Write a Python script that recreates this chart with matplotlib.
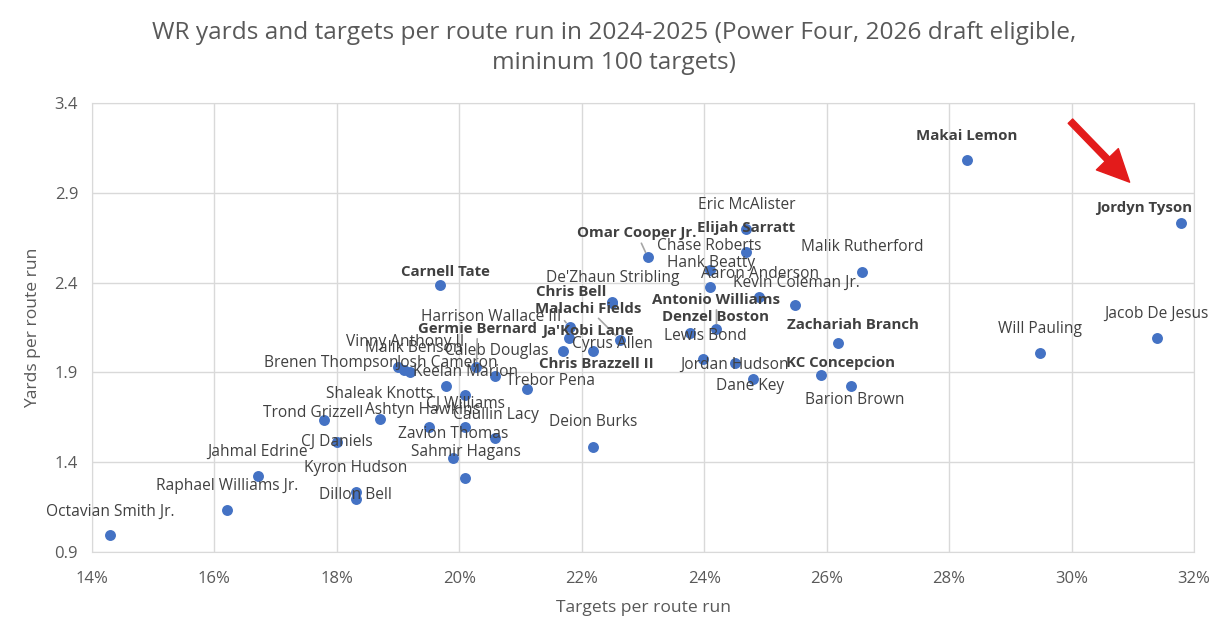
import numpy as np
import matplotlib.pyplot as plt
from matplotlib.ticker import PercentFormatter, MultipleLocator
from matplotlib.patches import FancyArrowPatch

# players, targets per route run, yards per route run
names = ["Octavian Smith Jr.", "Raphael Williams Jr.", "Jahmal Edrine", "Trond Grizzell",
         "CJ Daniels", "Kyron Hudson", "Dillon Bell", "Shaleak Knotts", "Ashtyn Hawkins",
         "Zavion Thomas", "Sahmir Hagans", "CJ Williams", "Caullin Lacy", "Josh Cameron",
         "Keelan Marion", "Caleb Douglas", "Trebor Pena", "Deion Burks", "Brenen Thompson",
         "Malik Benson", "Vinny Anthony II", "Germie Bernard", "Carnell Tate",
         "De'Zhaun Stribling", "Harrison Wallace III", "Chris Bell", "Malachi Fields",
         "Ja'Kobi Lane", "Cyrus Allen", "Chris Brazzell II", "Omar Cooper Jr.",
         "Eric McAlister", "Elijah Sarratt", "Chase Roberts", "Hank Beatty", "Aaron Anderson",
         "Kevin Coleman Jr.", "Malik Rutherford", "Antonio Williams", "Denzel Boston",
         "Lewis Bond", "Jordan Hudson", "Dane Key", "Zachariah Branch", "KC Concepcion",
         "Barion Brown", "Makai Lemon", "Jordyn Tyson", "Will Pauling", "Jacob De Jesus"]

tprr = [0.1430, 0.1620, 0.1671, 0.1779, 0.1800, 0.1831, 0.1831, 0.1870, 0.1950,
        0.1990, 0.2010, 0.2010, 0.2059, 0.1979, 0.2010, 0.2059, 0.2110, 0.2219, 0.1900,
        0.1919, 0.1910, 0.2028, 0.1969, 0.2250, 0.2180, 0.2249, 0.2262, 0.2179, 0.2218,
        0.2169, 0.2308, 0.2469, 0.2469, 0.2409, 0.2409, 0.2489, 0.2549, 0.2658, 0.2420,
        0.2377, 0.2398, 0.2450, 0.2479, 0.2619, 0.2590, 0.2639, 0.2829, 0.3178, 0.2949,
        0.3139]

yprr = [0.996, 1.133, 1.322, 1.633, 1.511, 1.236, 1.197, 1.639, 1.597,
        1.422, 1.311, 1.597, 1.536, 1.822, 1.774, 1.878, 1.809, 1.483, 1.930,
        1.900, 1.915, 1.930, 2.389, 2.291, 2.152, 2.288, 2.083, 2.091, 2.021,
        2.021, 2.540, 2.697, 2.569, 2.471, 2.378, 2.322, 2.277, 2.457, 2.141,
        2.122, 1.976, 1.952, 1.863, 2.061, 1.887, 1.822, 3.082, 2.732, 2.009,
        2.089]

bold_names = ["Carnell Tate", "Omar Cooper Jr.", "Elijah Sarratt", "Chris Bell",
              "Malachi Fields", "Germie Bernard", "Ja'Kobi Lane", "Chris Brazzell II",
              "Antonio Williams", "Denzel Boston", "Zachariah Branch", "KC Concepcion",
              "Makai Lemon", "Jordyn Tyson"]

y_ticks = [0.9, 1.4, 1.9, 2.4, 2.9, 3.4]

# label placement (pixels from the point), as the labels sit in the original
label_offsets = [(0, 23), (0, 24), (0, 24), (-11, 7), (0, 0), (0, 24), (0, 4), (0, 25),
                 (-6, 17), (0, 24), (0, 26), (0, 23), (0, 23), (1, 24), (0, 23), (1, 25),
                 (24, 8), (0, 25), (-67, 4), (4, 24), (1, 28), (1, 38), (5, 13), (0, 24),
                 (-78, 10), (-41, 11), (-31, 31), (19, 7), (20, 7), (34, -13), (-11, 24),
                 (0, 24), (0, 24), (0, 24), (1, 24), (1, 23), (1, 22), (0, 25), (0, 29),
                 (25, 16), (2, 23), (0, -2), (-3, -7), (15, 18), (20, 12), (4, -14),
                 (0, 24), (-36, 15), (0, 24), (0, 25)]
leader_lines = ["Germie Bernard", "Harrison Wallace III", "Malachi Fields",
                "Omar Cooper Jr.", "Antonio Williams"]

plt.rcParams['font.family'] = ['Open Sans', 'DejaVu Sans']

fig = plt.figure(figsize=(12.28, 6.36), dpi=100)
ax = fig.add_axes([92 / 1228, 1 - 552 / 636, (1194 - 92) / 1228, (552 - 103) / 636])

ax.scatter(tprr, yprr, s=62, color='#4472C4', zorder=3, linewidths=0)

for name, x, y, off in zip(names, tprr, yprr, label_offsets):
    is_bold = name in bold_names
    props = None
    if name in leader_lines:
        props = dict(arrowstyle='-', color='#a6a6a6', lw=1.2, shrinkA=0, shrinkB=4)
        if name == "Harrison Wallace III":
            props['relpos'] = (1.0, 0.5)
    ax.annotate(name, (x, y), xytext=off, textcoords='offset pixels',
                ha='center', va='center', fontsize=10.8 if is_bold else 11.2,
                color='#404040', fontweight='bold' if is_bold else 'normal',
                zorder=4, arrowprops=props)

# red arrow pointing at Jordyn Tyson
arrow = FancyArrowPatch((0.2995, 3.31), (0.3098, 2.948),
                        arrowstyle='simple,head_width=2.2,head_length=2.3,tail_width=0.45',
                        mutation_scale=10, color='#e31b1b', zorder=5)
ax.add_patch(arrow)

ax.set_xlim(0.14, 0.32)
ax.set_ylim(0.9, 3.4)
ax.xaxis.set_major_locator(MultipleLocator(0.02))
ax.set_yticks(y_ticks)
ax.xaxis.set_major_formatter(PercentFormatter(1.0, decimals=0))
ax.yaxis.set_major_formatter(lambda v, p: f"{v:.1f}")
ax.grid(True, color='#d9d9d9', lw=1)
ax.set_axisbelow(True)
for sp in ax.spines.values():
    sp.set_color('#d9d9d9')
ax.tick_params(length=0, labelsize=12, labelcolor='#595959')
ax.tick_params(axis='x', pad=14)
ax.tick_params(axis='y', pad=10)

ax.set_xlabel('Targets per route run', fontsize=12.6, color='#595959', labelpad=9)
ax.set_ylabel('Yards per route run', fontsize=12.6, color='#595959', labelpad=10)
fig.text(0.5, 1 - 48 / 636, 'WR yards and targets per route run in 2024-2025 (Power Four, 2026 draft eligible,\nmininum 100 targets)',
         ha='center', va='center', fontsize=17.6, color='#595959', linespacing=1.38)

fig.savefig('out.png', dpi=100)
